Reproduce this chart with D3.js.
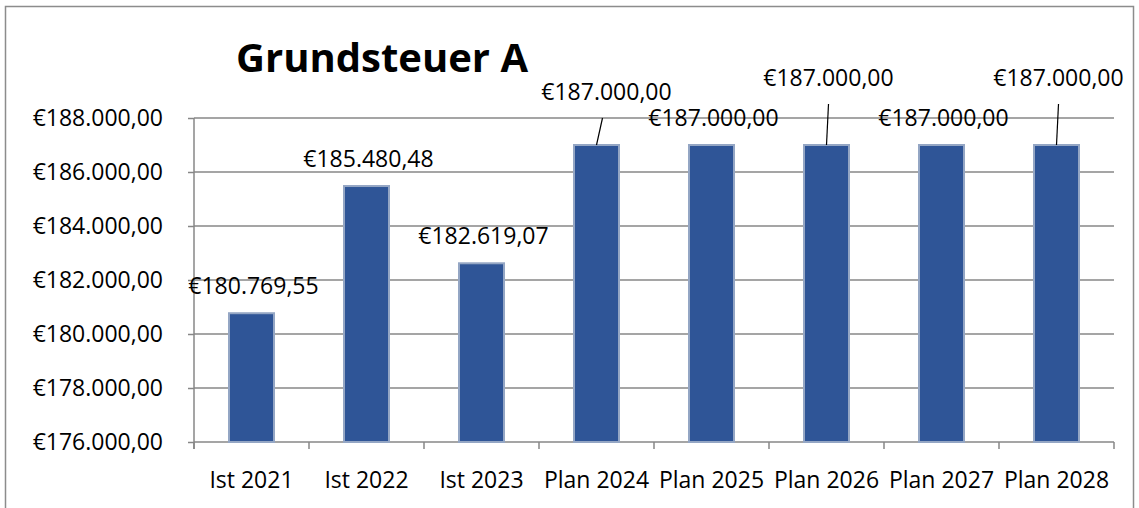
<!DOCTYPE html>
<html>
<head>
<meta charset="utf-8">
<script src="https://cdn.jsdelivr.net/npm/d3@7"></script>
<style>
  body { margin: 0; background: #fff; }
  svg { display: block; font-family: "Open Sans", sans-serif; }
</style>
</head>
<body>
<div id="chartArea"></div>
<script>
// data
const categories = ["Ist 2021", "Ist 2022", "Ist 2023", "Plan 2024", "Plan 2025", "Plan 2026", "Plan 2027", "Plan 2028"];
const values = [180769.55, 185480.48, 182619.07, 187000, 187000, 187000, 187000, 187000];
const yTicks = [176000, 178000, 180000, 182000, 184000, 186000, 188000];
const title = "Grundsteuer A";

// labels that were dragged up in the original (extra px), with leader lines
const labelLift = { "Plan 2024": 26, "Plan 2026": 40, "Plan 2028": 40 };

const chart = {};
chart.width = 1139;
chart.height = 508;
chart.margin = { top: 118, right: 25, bottom: 66, left: 194 };
chart.fontSize = 23;

chart.svg = d3.select("#chartArea").append("svg")
  .attr("width", chart.width)
  .attr("height", chart.height);

// outer frame
chart.svg.append("rect")
  .attr("x", 5.5).attr("y", 6.5)
  .attr("width", 1128).attr("height", 520)
  .attr("fill", "none").attr("stroke", "#8c8c8c").attr("stroke-width", 1.5);

const x = d3.scaleBand(categories, [chart.margin.left, chart.width - chart.margin.right]);
const y = d3.scaleLinear([176000, 188000], [chart.height - chart.margin.bottom, chart.margin.top]);
const cx = (c) => x(c) + x.bandwidth() / 2;

const euro = (v) => "€" + d3.format(",.2f")(v).replace(/,/g, "#").replace(".", ",").replace(/#/g, ".");

// y axis labels + ticks
const yAxis = chart.svg.append("g")
  .attr("transform", `translate(${chart.margin.left},0)`)
  .call(d3.axisLeft(y).tickValues(yTicks).tickSize(6).tickPadding(25).tickFormat(euro));
yAxis.select(".domain").remove();
yAxis.selectAll(".tick line").attr("stroke", "#878787").attr("stroke-width", 1.5);
yAxis.selectAll(".tick text").attr("font-size", chart.fontSize).attr("fill", "#000").attr("font-family", "Open Sans");

// gridlines
chart.svg.append("g")
  .selectAll("line")
  .data(yTicks)
  .join("line")
  .attr("x1", chart.margin.left)
  .attr("x2", chart.width - chart.margin.right)
  .attr("y1", (d) => y(d))
  .attr("y2", (d) => y(d))
  .attr("stroke", "#878787")
  .attr("stroke-width", 1.5);

// left axis line (runs to the bottom tick)
chart.svg.append("line")
  .attr("x1", chart.margin.left).attr("x2", chart.margin.left)
  .attr("y1", y(188000)).attr("y2", y(176000) + 7)
  .attr("stroke", "#878787").attr("stroke-width", 1.5);

// x axis ticks at band boundaries
const bounds = categories.map((c) => x(c)).concat([x.range()[1]]);
chart.svg.append("g")
  .selectAll("line")
  .data(bounds)
  .join("line")
  .attr("x1", (d) => d).attr("x2", (d) => d)
  .attr("y1", y(176000)).attr("y2", y(176000) + 7)
  .attr("stroke", "#878787").attr("stroke-width", 1.5);

chart.svg.append("g")
  .selectAll("text")
  .data(categories)
  .join("text")
  .attr("x", (d) => cx(d))
  .attr("y", y(176000) + 46)
  .attr("text-anchor", "middle")
  .attr("font-size", chart.fontSize)
  .text((d) => d);

// bars
const barW = 45;
const bars = categories.map((c, i) => ({ cat: c, value: values[i], lift: labelLift[c] || 0 }));

chart.svg.append("g")
  .selectAll("rect")
  .data(bars)
  .join("rect")
  .attr("x", (d) => cx(d.cat) - barW / 2)
  .attr("y", (d) => y(d.value))
  .attr("width", barW)
  .attr("height", (d) => y(176000) - y(d.value))
  .attr("fill", "#2F5597")
  .attr("stroke", "#94A6C4")
  .attr("stroke-width", 2);

// data labels
const labelY = (d) => y(d.value) - 19 - d.lift;
const labelShift = (d) => (d.cat === "Plan 2024" ? 10 : 2);

chart.svg.append("g")
  .selectAll("line")
  .data(bars.filter((d) => d.lift > 0))
  .join("line")
  .attr("x1", (d) => cx(d.cat))
  .attr("x2", (d) => cx(d.cat) + labelShift(d) - (d.cat === "Plan 2024" ? 4 : 0))
  .attr("y1", (d) => y(d.value))
  .attr("y2", (d) => labelY(d) + 18)
  .attr("stroke", "#000")
  .attr("stroke-width", 1.2);

chart.svg.append("g")
  .selectAll("text")
  .data(bars)
  .join("text")
  .attr("x", (d) => cx(d.cat) + labelShift(d))
  .attr("y", labelY)
  .attr("text-anchor", "middle")
  .attr("font-size", chart.fontSize)
  .text((d) => euro(d.value));

// title
chart.svg.append("text")
  .attr("x", 382)
  .attr("y", 72)
  .attr("text-anchor", "middle")
  .attr("font-size", 40)
  .attr("font-weight", "bold")
  .text(title);
</script>
</body>
</html>
